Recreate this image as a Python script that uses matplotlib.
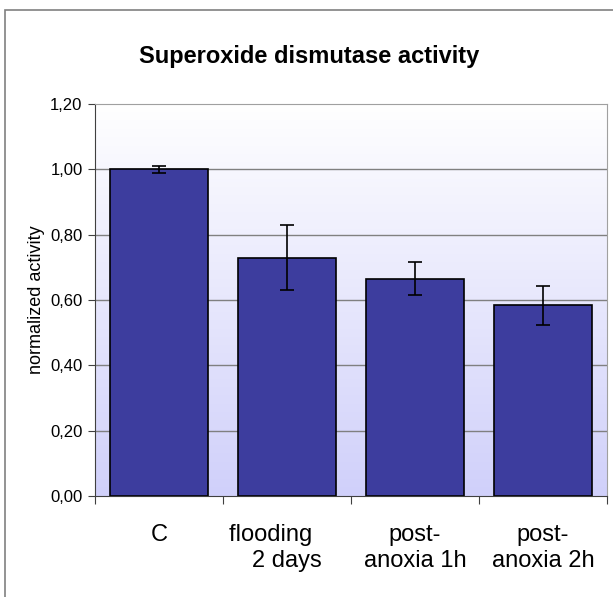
import numpy as np
import matplotlib.pyplot as plt
from matplotlib.patches import Rectangle

categories = ['C', 'flooding     \n2 days', 'post-\nanoxia 1h', 'post-\nanoxia 2h']
activity = [1.00, 0.73, 0.665, 0.585]
err_low = [0.01, 0.10, 0.05, 0.062]
err_high = [0.01, 0.10, 0.05, 0.058]
yticks = [0.0, 0.2, 0.4, 0.6, 0.8, 1.0, 1.2]
ytick_labels = ['0,00', '0,20', '0,40', '0,60', '0,80', '1,00', '1,20']

plt.rcParams['font.family'] = ['Liberation Sans', 'DejaVu Sans']

fig = plt.figure(figsize=(6.13, 5.97), dpi=100)
# outer chart border (cropped on right and bottom)
fig.patches.append(Rectangle((5 / 613, -0.1), 1.2, (597 - 10) / 597 + 0.1,
                             transform=fig.transFigure, fill=False,
                             edgecolor='#808080', linewidth=1.2))

ax = fig.add_axes([95 / 613, 101 / 597, 512 / 613, 392 / 597])
x = np.arange(len(categories))

# gradient background: white at top, lavender at bottom
grad = np.linspace(0, 1, 256).reshape(-1, 1)
top = np.array([1.0, 1.0, 1.0])
bottom = np.array([208, 208, 250]) / 255
img = top + (bottom - top) * grad[..., None] * np.ones((1, 1, 3))
ax.imshow(img, extent=[-0.5, 3.5, 0.0, 1.2], aspect='auto', zorder=0)

for t in yticks[1:-1]:
    ax.axhline(t, color='#808080', linewidth=1, zorder=1)

ax.bar(x, activity, width=0.77, color='#3d3d9e', edgecolor='black',
       linewidth=1.2, zorder=2)
ax.errorbar(x, activity, yerr=[err_low, err_high], fmt='none', ecolor='black',
            elinewidth=1.2, capsize=5, capthick=1.2, zorder=3)

ax.set_xlim(-0.5, 3.5)
ax.set_ylim(0, 1.2)
ax.set_yticks(yticks)
ax.set_yticklabels(ytick_labels, fontsize=12)
ax.set_xticks([-0.5, 0.5, 1.5, 2.5, 3.5])
ax.set_xticklabels([])
ax.set_xticks(x, minor=True)
ax.set_xticklabels(categories, minor=True, fontsize=17, linespacing=1.25)
ax.tick_params(axis='x', which='minor', length=0, pad=20)
ax.tick_params(axis='x', which='major', length=6, color='#404040')
ax.tick_params(axis='y', length=5, color='#404040', pad=4)

for s in ['top', 'right']:
    ax.spines[s].set_color('#a0a0a0')
ax.spines['left'].set_color('#404040')
ax.spines['bottom'].set_color('#404040')

ax.set_ylabel('normalized activity', fontsize=13, labelpad=4)
fig.text(309 / 613, 1 - 57 / 597, 'Superoxide dismutase activity',
         ha='center', va='center', fontsize=17, fontweight='bold')

fig.savefig('out.png', dpi=100)
